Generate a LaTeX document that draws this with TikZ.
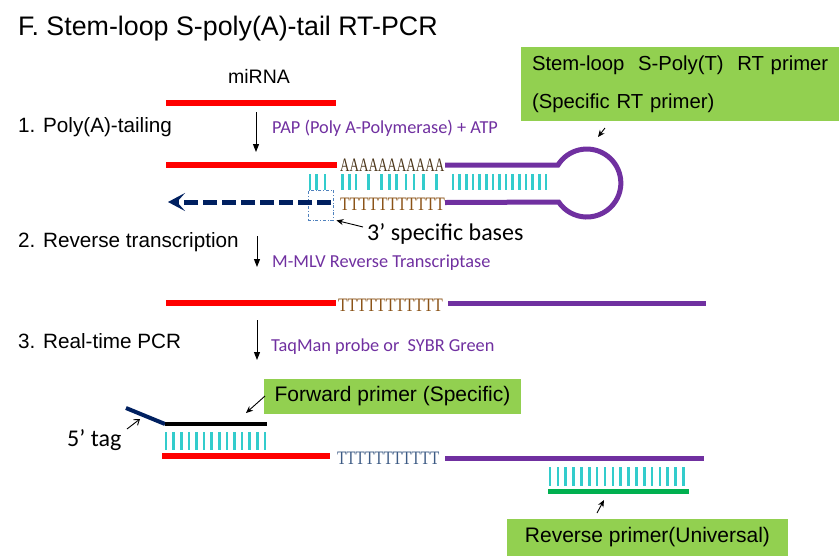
\documentclass[tikz,border=0pt]{standalone}
\usepackage{fontspec}
\setmainfont{Liberation Sans}
\newfontfamily\calfont{Carlito}
\newfontfamily\basefont{Liberation Serif}
\usetikzlibrary{
  arrows.meta,
  positioning
}
\definecolor{slRed}{HTML}{FF0000}
\definecolor{slPurple}{HTML}{7030A0}
\definecolor{slCyan}{HTML}{33CCCC}
\definecolor{slNavy}{HTML}{002060}
\definecolor{slBoxBlue}{HTML}{4F81BD}
\definecolor{slGreenBox}{HTML}{92D050}
\definecolor{slGreenLine}{HTML}{00B050}
\definecolor{slBaseA}{HTML}{4A3418}
\definecolor{slBaseT}{HTML}{8A5216}
\definecolor{slBaseU}{HTML}{3C5A84}
\tikzset{
  rna/.style={line width=6pt, slRed},
  tail/.style={line width=5pt, slPurple},
  pairbar/.style={slCyan, line width=2.6pt},
  steplabel/.style={anchor=base west, inner sep=0pt, font=\fontsize{20.7}{25}\selectfont},
  enzyme/.style={anchor=base west, inner sep=0pt, text=slPurple, font=\calfont\fontsize{18.3}{22}\selectfont},
  bases/.style={anchor=base west, inner sep=0pt, font=\basefont\fontsize{19}{22}\selectfont},
  note/.style={anchor=base west, inner sep=0pt, font=\calfont\fontsize{24}{28}\selectfont},
  callout/.style={fill=slGreenBox, inner sep=0pt, font=\fontsize{21}{25}\selectfont},
  stepflow/.style={-{Triangle[length=8pt,width=6pt]}, line width=1pt},
  pointer/.style={-{Stealth[length=7pt,width=6pt]}, line width=0.9pt},
  cdna/.style={-{Stealth[length=17pt,width=18pt,inset=8pt]}, line width=5pt, slNavy, dash pattern=on 14pt off 5pt}
}
\begin{document}
\begin{tikzpicture}[x=1pt, y=-1pt]
  \useasboundingbox (0,0) rectangle (839,558);
  % title and step names
  \node[steplabel, font=\fontsize{26.8}{30}\selectfont] (title) at (18,35) {F. Stem-loop S-poly(A)-tail RT-PCR};
  \node[anchor=base, inner sep=0pt, font=\fontsize{19.5}{23}\selectfont] (mirna) at (259,83) {miRNA};
  \node[steplabel] (stepA) at (18,132) {1. Poly(A)-tailing};
  \node[steplabel] (stepB) at (18,247) {2. Reverse transcription};
  \node[steplabel] (stepC) at (18,348) {3. Real-time PCR};
  % enzymes
  \node[enzyme] (papText) at (272,133) {PAP (Poly A-Polymerase) + ATP};
  \node[enzyme] (mmlvText) at (272,267) {M-MLV Reverse Transcriptase};
  \node[enzyme] (qpcrText) at (271,351) {TaqMan probe or\ \ SYBR Green};
  \coordinate (flowA) at (256,112);
  \coordinate (flowB) at (257,236);
  \coordinate (flowC) at (257,320);
  \draw[stepflow] (flowA) -- ++(0,40);
  \draw[stepflow] (flowB) -- ++(0,31);
  \draw[stepflow] (flowC) -- ++(0,40);

  % miRNA
  \draw[rna] (166,103) -- (336,103);

  % poly(A) tailed miRNA with stem-loop primer
  \draw[rna] (166,165) -- (337,165);
  \node[bases, text=slBaseA, xscale=0.69] (baseA) at (340,171) {AAAAAAAAAAA};
  \node[bases, text=slBaseT, xscale=0.82] (baseT1) at (340,210) {TTTTTTTTTTT};
  \draw[tail] (445,165) -- (558,165) arc[start angle=-148, end angle=146, radius=34] -- (445,202.5);
  \foreach \x in {310,316.5,325,342.7,349.3,356,368.3,381.7,389.3,396.7,406,414,423.3,436.7}
    \draw[pairbar] (\x,174) -- (\x,190);
  \foreach \i in {0,...,14}
    \draw[pairbar] (453+\i*6.64,174) -- (453+\i*6.64,190);
  \node[draw=slBoxBlue, dash dot, line width=0.8pt, minimum width=25pt, minimum height=30pt, inner sep=0pt] (specBox) at (320.5,205) {};
  \coordinate (cdnaStart) at (331,202);
  \coordinate (cdnaEnd) at (168,202);
  \draw[cdna] (cdnaStart) -- (cdnaEnd);
  \node[note] (specLbl) at (367,240) {3’ specific bases};
  \coordinate (specTail) at (363,227);
  \draw[pointer] (specTail) -- ([xshift=3pt]specBox.south east);

  \node[callout, minimum height=74pt, text width=305pt, inner xsep=11pt, align=left,
    font=\fontsize{20.3}{38}\selectfont] (rtBox) at (684.5,84) {Stem-loop\ \ S-Poly(T)\ \ RT~primer\\(Specific RT primer)};
  \coordinate (loopTail) at (605,128);
  \coordinate (loopTip) at (598,137);
  \draw[pointer] (loopTail) -- (loopTip);

  % cDNA
  \draw[rna] (166,303) -- (336,303);
  \node[bases, text=slBaseT, xscale=0.82] (baseT2) at (338,311) {TTTTTTTTTTT};
  \draw[tail] (448,303) -- (706,303);

  % real-time PCR
  \draw[rna] (162,456) -- (330,456);
  \node[bases, text=slBaseU, xscale=0.80] (baseT3) at (337,464) {TTTTTTTTTTT};
  \draw[tail] (445,458) -- (704,458);
  \foreach \i in {0,...,13}
    \draw[pairbar] (166+\i*7.6,432) -- (166+\i*7.6,450);
  \foreach \i in {0,...,17}
    \draw[pairbar] (550+\i*7.85,467) -- (550+\i*7.85,486);
  \coordinate (tagEnd) at (126,408);
  \coordinate (fwdStart) at (165,424);
  \coordinate (fwdEnd) at (267,424);
  \draw[slNavy, line width=4pt] (tagEnd) -- (fwdStart);
  \draw[black, line width=4.5pt] (fwdStart) -- (fwdEnd);
  \draw[slGreenLine, line width=5pt] (548,491) -- (689,491);

  \node[note] (tagLbl) at (67,446.5) {5’ tag};
  \coordinate (tagTail) at (127,429);
  \coordinate (tagTip) at (140,419);
  \draw[-{Straight Barb[length=5pt,width=7pt]}, line width=0.9pt] (tagTail) -- (tagTip);

  \node[callout, minimum width=257pt, minimum height=35pt] (fwdBox) at (392.5,396.5) {Forward primer (Specific)};
  \coordinate (fwdTail) at (265,396);
  \coordinate (fwdTip) at (246,413);
  \draw[pointer] (fwdTail) -- (fwdTip);

  \node[callout, minimum width=281pt, minimum height=37pt] (revBox) at (647.5,537) {Reverse primer(Universal)};
  \coordinate (revTail) at (597,513);
  \coordinate (revTip) at (604,500);
  \draw[pointer] (revTail) -- (revTip);
\end{tikzpicture}
\end{document}
